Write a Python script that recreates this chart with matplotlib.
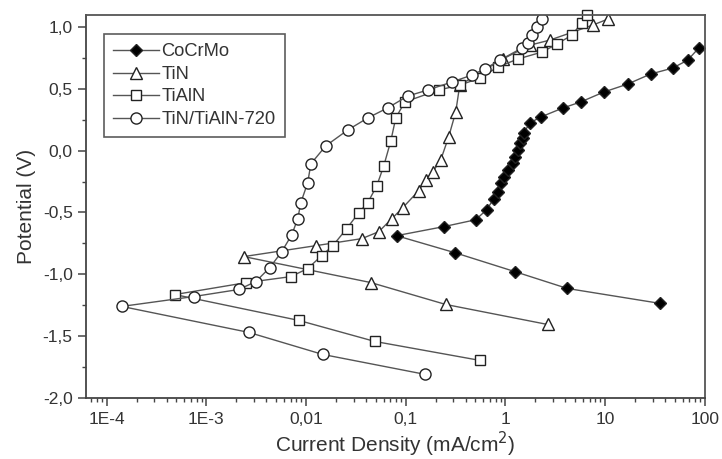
import numpy as np
import matplotlib.pyplot as plt
from matplotlib.ticker import FixedLocator, FuncFormatter, LogLocator, MultipleLocator

plt.rcParams['font.family'] = ['Liberation Sans', 'DejaVu Sans']

# potentiodynamic polarization curves: current density (mA/cm2) vs potential (V)
# each curve runs from the cathodic end down to Ecorr and then up the anodic branch
cocrmo_i = [36, 4.2, 1.24, 0.31, 0.081,
            0.241, 0.505, 0.65, 0.765, 0.84, 0.90, 0.964, 1.06, 1.19, 1.24,
            1.33, 1.39, 1.49, 1.53, 1.76, 2.26, 3.77, 5.7, 9.7, 16.9, 28.7,
            47.7, 67.5, 87]
cocrmo_e = [-1.236, -1.115, -0.978, -0.825, -0.688,
            -0.615, -0.559, -0.478, -0.390, -0.333, -0.261, -0.212, -0.156,
            -0.099, -0.051, 0.006, 0.062, 0.102, 0.142, 0.223, 0.271, 0.344,
            0.393, 0.473, 0.538, 0.619, 0.667, 0.731, 0.828]

tin_i = [2.66, 0.252, 0.0447, 0.00238,
         0.0125, 0.0363, 0.0537, 0.0726, 0.0935, 0.135, 0.159, 0.187, 0.225,
         0.27, 0.318, 0.349, 0.94, 1.76, 2.79, 7.5, 10.6]
tin_e = [-1.406, -1.244, -1.067, -0.857,
         -0.769, -0.712, -0.656, -0.551, -0.462, -0.325, -0.236, -0.172,
         -0.075, 0.110, 0.312, 0.529, 0.74, 0.852, 0.893, 1.014, 1.062]

tialn_i = [0.553, 0.049, 0.00847, 4.83e-4,
           0.00249, 0.00705, 0.0104, 0.0144, 0.0186, 0.0256, 0.0339, 0.0417,
           0.0513, 0.0603, 0.071, 0.0796, 0.098, 0.215, 0.349, 0.553, 0.839,
           1.33, 2.32, 3.28, 4.63, 5.83, 6.55]
tialn_e = [-1.696, -1.543, -1.373, -1.164,
           -1.068, -1.019, -0.954, -0.849, -0.769, -0.631, -0.502, -0.421,
           -0.285, -0.124, 0.078, 0.264, 0.393, 0.49, 0.529, 0.586, 0.675,
           0.74, 0.796, 0.86, 0.933, 1.03, 1.10]

multi_i = [0.156, 0.0147, 0.00267, 1.42e-4,
           7.5e-4, 0.00212, 0.00314, 0.00434, 0.00571, 0.00721, 0.00828,
           0.00887, 0.0104, 0.0112, 0.0158, 0.0262, 0.0417, 0.066, 0.105,
           0.167, 0.29, 0.46, 0.62, 0.88, 1.46, 1.68, 1.84, 2.07, 2.32]
multi_e = [-1.809, -1.648, -1.47, -1.26,
           -1.18, -1.123, -1.059, -0.946, -0.818, -0.680, -0.550, -0.422,
           -0.261, -0.107, 0.038, 0.166, 0.264, 0.345, 0.441, 0.49, 0.554,
           0.61, 0.659, 0.731, 0.828, 0.869, 0.933, 0.998, 1.062]

x_ticks = [1e-4, 1e-3, 1e-2, 1e-1, 1, 10, 100]
x_labels = ['1E-4', '1E-3', '0,01', '0,1', '1', '10', '100']

ink = '#333333'
line_c = '#555555'

fig = plt.figure(figsize=(7.22, 4.59), dpi=100)
ax = fig.add_axes([0.119, 0.133, 0.857, 0.834])

common = dict(color=line_c, lw=1.0, markeredgecolor='#222222', markeredgewidth=1.0)
ax.plot(cocrmo_i, cocrmo_e, marker='D', ms=6.6, markerfacecolor='black',
        label='CoCrMo', **common)
ax.plot(tin_i, tin_e, marker='^', ms=8.5, markerfacecolor='white',
        label='TiN', **common)
ax.plot(tialn_i, tialn_e, marker='s', ms=7, markerfacecolor='white',
        label='TiAlN', clip_on=False, **common)
ax.plot(multi_i, multi_e, marker='o', ms=8, markerfacecolor='white',
        label='TiN/TiAlN-720', **common)

ax.set_xscale('log')
ax.set_xlim(6.2e-5, 100)
ax.set_ylim(-2.0, 1.095)

ax.xaxis.set_major_locator(FixedLocator(x_ticks))
ax.xaxis.set_major_formatter(FuncFormatter(lambda v, p: x_labels[x_ticks.index(v)] if v in x_ticks else ''))
ax.xaxis.set_minor_locator(LogLocator(base=10, subs=np.arange(2, 10), numticks=20))
ax.yaxis.set_major_locator(MultipleLocator(0.5))
ax.yaxis.set_minor_locator(MultipleLocator(0.25))
ax.yaxis.set_major_formatter(FuncFormatter(lambda v, p: ('%.1f' % v).replace('.', ',')))

for side in ['top', 'right']:
    ax.spines[side].set_color('#555555')
    ax.spines[side].set_linewidth(1.3)
for side in ['left', 'bottom']:
    ax.spines[side].set_color('#444444')
    ax.spines[side].set_linewidth(1.3)

ax.tick_params(which='major', direction='out', length=6, width=1.1, color='#444444',
               labelsize=12.5, labelcolor=ink, top=False, right=False)
ax.tick_params(which='minor', direction='out', length=3, width=1.0, color='#444444',
               top=False, right=False)
ax.tick_params(axis='x', which='major', pad=4)

ax.set_xlabel('Current Density (mA/cm$^2$)', fontsize=15, color=ink, labelpad=2)
ax.set_ylabel('Potential (V)', fontsize=15, color=ink, labelpad=5)

leg = ax.legend(loc='upper left', bbox_to_anchor=(0.029, 0.95), fontsize=13.2,
                frameon=True, fancybox=False, edgecolor='#333333', handlelength=2.5,
                handletextpad=0.15, labelspacing=0.3, borderpad=0.5, borderaxespad=0)
leg.get_frame().set_linewidth(1.2)
for t in leg.get_texts():
    t.set_color(ink)

fig.savefig('out.png', dpi=100)
